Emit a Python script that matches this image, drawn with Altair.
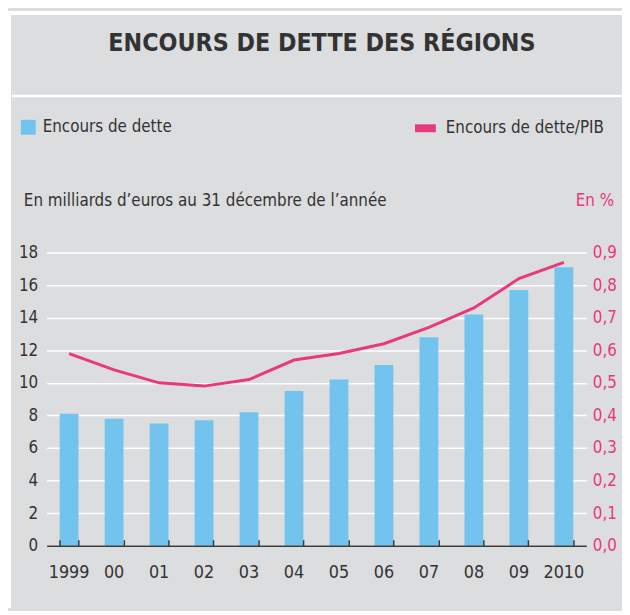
import altair as alt
import pandas as pd

# ---- data ----
annees = ["1999", "00", "01", "02", "03", "04", "05", "06", "07", "08", "09", "2010"]
encours = [8.1, 7.8, 7.5, 7.7, 8.2, 9.5, 10.2, 11.1, 12.8, 14.2, 15.7, 17.1]
ratio_pib = [0.59, 0.54, 0.50, 0.49, 0.51, 0.57, 0.59, 0.62, 0.67, 0.73, 0.82, 0.87]
y_left_ticks = [0, 2, 4, 6, 8, 10, 12, 14, 16, 18]
y_right_ticks = [0.0, 0.1, 0.2, 0.3, 0.4, 0.5, 0.6, 0.7, 0.8, 0.9]

FONT = "Liberation Sans Narrow, DejaVu Sans Condensed, Arial Narrow, sans-serif"
BLUE = "#72c4ee"
PINK = "#e8397d"
DARK = "#333333"
BG = "#dcdddf"

W, H = 545, 296

df = pd.DataFrame({
    "annee": annees,
    "encours": encours,
    "ratio": ratio_pib,
    "s_bar": ["Encours de dette"] * len(annees),
    "s_line": ["Encours de dette/PIB"] * len(annees),
})

xscale = alt.Scale(paddingInner=0.58, paddingOuter=0.29)

x_bottom = alt.X(
    "annee:N", sort=annees, scale=xscale,
    axis=alt.Axis(title=None, orient="bottom", ticks=False, domain=True,
                  domainColor="#3a3a3a", domainWidth=1.5, labelFontSize=18,
                  labelPadding=18, labelAngle=0, zindex=1, labelFont=FONT,
                  labelColor=DARK, grid=False),
)
x_top = alt.X(
    "annee:N", sort=annees, scale=xscale,
    axis=alt.Axis(title=None, orient="top", offset=-H, ticks=True,
                  tickBand="extent", tickSize=6, tickColor="#3a3a3a",
                  tickWidth=1.5, labels=False, domain=False, grid=False, zindex=1),
)

bars = alt.Chart(df).mark_bar(size=19).encode(
    x=x_bottom,
    y=alt.Y("encours:Q", scale=alt.Scale(domain=[0, 18], nice=False),
            axis=alt.Axis(title=None, values=y_left_ticks, grid=True,
                          gridColor="white", gridWidth=1.5, ticks=False,
                          domain=False, labelFontSize=17, labelFont=FONT,
                          labelColor=DARK, labelPadding=9)),
    color=alt.Color("s_bar:N",
                    scale=alt.Scale(domain=["Encours de dette"], range=[BLUE]),
                    legend=alt.Legend(orient="none", legendX=-27, legendY=-135,
                                      title=None, symbolType="square",
                                      symbolSize=225, symbolStrokeWidth=0,
                                      labelFontSize=17, labelFont=FONT,
                                      labelColor=DARK, padding=0, labelOffset=6,
                                      labelLimit=300)),
)

line = alt.Chart(df).mark_line(strokeWidth=3).encode(
    x=x_top,
    y=alt.Y("ratio:Q", scale=alt.Scale(domain=[0, 0.9], nice=False),
            axis=alt.Axis(title=None, orient="right", values=y_right_ticks,
                          grid=False, ticks=False, domain=False,
                          labelExpr="replace(format(datum.value, '.1f'), '.', ',')",
                          labelFontSize=17, labelFont=FONT, labelColor=PINK,
                          labelPadding=6)),
    stroke=alt.Stroke("s_line:N",
                      scale=alt.Scale(domain=["Encours de dette/PIB"], range=[PINK]),
                      legend=alt.Legend(orient="none", legendX=368, legendY=-140,
                                        title=None, symbolType="stroke",
                                        symbolSize=441, symbolStrokeWidth=8,
                                        labelFontSize=17, labelFont=FONT,
                                        labelColor=DARK, padding=0, labelOffset=6,
                                        labelLimit=300)),
)

def text_layer(txt, x, y, size, color=DARK, weight="normal", align="left"):
    return alt.Chart(pd.DataFrame({"t": [txt]})).mark_text(
        font=FONT, fontSize=size, fontWeight=weight, color=color,
        align=align, baseline="middle",
    ).encode(x=alt.value(x), y=alt.value(y), text="t:N")

title = text_layer("ENCOURS DE DETTE DES RÉGIONS", 278, -212, 25,
                   weight="bold", align="center")
sub_left = text_layer("En milliards d\u2019euros au 31 décembre de l\u2019année",
                      -23, -52, 17)
sub_right = text_layer("En %", 573, -52, 17, color=PINK, align="right")

one = pd.DataFrame({"k": [0]})
sep = alt.Chart(one).mark_rule(color="white", strokeWidth=2.5).encode(
    x=alt.value(-35), x2=alt.value(583), y=alt.value(-158))
top_strip = alt.Chart(one).mark_rect(color="white").encode(
    x=alt.value(-39), x2=alt.value(583), y=alt.value(-244), y2=alt.value(-240))
left_strip = alt.Chart(one).mark_rect(color="white").encode(
    x=alt.value(-39), x2=alt.value(-36), y=alt.value(-244), y2=alt.value(359))

chart = alt.layer(
    bars, line, top_strip, left_strip, sep, title, sub_left, sub_right
).resolve_scale(
    y="independent"
).resolve_axis(
    x="independent", y="independent"
).properties(
    width=W, height=H,
    autosize=alt.AutoSizeParams(type="none"),
    padding={"left": 39, "top": 244, "right": 36, "bottom": 63},
    background=BG,
).configure_view(stroke=None)

chart.save("out.html", embed_options={"renderer": "svg", "actions": False})
